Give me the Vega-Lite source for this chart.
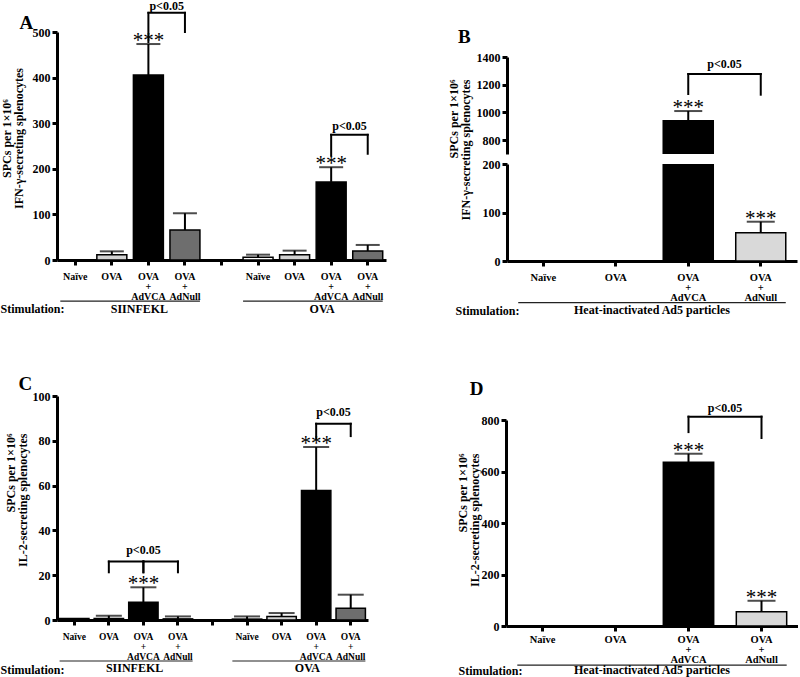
{
"$schema":"https://vega.github.io/schema/vega-lite/v6.json",
"padding":{"left":0,"top":0,"right":0,"bottom":0},
"bounds":"flush",
"spacing":364,
"resolve":{"scale":{"x":"independent","y":"independent","color":"independent"}},
"config":{
 "view":{"stroke":null},
 "text":{"font":"Liberation Serif","color":"black"},
 "axis":{"domainColor":"black","domainWidth":3,"tickColor":"black","tickWidth":3,"tickSize":5,"labelColor":"black","labelFont":"Liberation Serif","labelFontWeight":"bold","labelFontSize":12,"titleColor":"black","titleFont":"Liberation Serif","titleFontWeight":"bold","titleFontSize":12,"grid":false,"labelPadding":2,"titleLineHeight":12},
 "axisX":{"labelAngle":0,"labelFontSize":10,"labelLineHeight":10,"labelPadding":6,"labelOverlap":false},
 "axisY":{"labelOverlap":false,"format":"d"}
},
"datasets":{
 "A":[
  {"cat":"S:Naïve","grp":"Naïve","mean":0.3,"hi":null,"sig":""},
  {"cat":"S:OVA","grp":"OVA","mean":11.7,"hi":19,"sig":""},
  {"cat":"S:OVA|+|AdVCA","grp":"AdVCA","mean":405.6,"hi":473.6,"sig":"***"},
  {"cat":"S:OVA|+|AdNull","grp":"AdNull","mean":65.9,"hi":102.5,"sig":""},
  {"cat":"O:Naïve","grp":"Naïve","mean":5.9,"hi":11.7,"sig":""},
  {"cat":"O:OVA","grp":"OVA","mean":11.7,"hi":20.5,"sig":""},
  {"cat":"O:OVA|+|AdVCA","grp":"AdVCA","mean":171.3,"hi":203.5,"sig":"***"},
  {"cat":"O:OVA|+|AdNull","grp":"AdNull","mean":19.8,"hi":33,"sig":""}
 ],
 "Abr":[
  {"l":"S:OVA|+|AdVCA","r":"S:OVA|+|AdNull","top":542,"lb":478,"rb":500},
  {"l":"O:OVA|+|AdVCA","r":"O:OVA|+|AdNull","top":274.5,"lb":229,"rb":233}
 ],
 "Ap":[{"at":"S:OVA|+|AdVCA","y":556,"p":"p<0.05"},{"at":"O:OVA|+|AdVCA","y":294,"p":"p<0.05"}],
 "G2":[{"g":"SIINFEKL","from":"S:Naïve","to":"S:OVA|+|AdNull","at":"S:OVA|+|AdVCA"},{"g":"OVA","from":"O:Naïve","to":"O:OVA|+|AdNull","at":"O:OVA|+|AdVCA"}],
 "C":[
  {"cat":"S:Naïve","grp":"Naïve","mean":0.7,"hi":null,"sig":""},
  {"cat":"S:OVA","grp":"OVA","mean":0.7,"hi":1.9,"sig":""},
  {"cat":"S:OVA|+|AdVCA","grp":"AdVCA","mean":7.9,"hi":14.6,"sig":"***"},
  {"cat":"S:OVA|+|AdNull","grp":"AdNull","mean":0.5,"hi":1.6,"sig":""},
  {"cat":"O:Naïve","grp":"Naïve","mean":0.4,"hi":1.6,"sig":""},
  {"cat":"O:OVA","grp":"OVA","mean":1.6,"hi":3.1,"sig":""},
  {"cat":"O:OVA|+|AdVCA","grp":"AdVCA","mean":57.8,"hi":77.2,"sig":"***"},
  {"cat":"O:OVA|+|AdNull","grp":"AdNull","mean":5.2,"hi":11.3,"sig":""}
 ],
 "Cbr":[
  {"l":"S:OVA","r":"S:OVA|+|AdVCA","top":26.1,"lb":21.3,"rb":21.3},
  {"l":"S:OVA|+|AdVCA","r":"S:OVA|+|AdNull","top":26.1,"lb":21.3,"rb":21.3},
  {"l":"O:OVA|+|AdVCA","r":"O:OVA|+|AdNull","top":87.6,"lb":80.9,"rb":82.1}
 ],
 "Cp1":[{"at":"S:OVA|+|AdVCA","y":31.3,"p":"p<0.05"}],
 "Cp2":[{"at":"O:OVA|+|AdVCA","y":93,"p":"p<0.05"}],
 "B":[
  {"cat":"H:OVA|+|AdVCA","grp":"AdVCA","mean":940,"hi":1010,"sig":"***"},
  {"cat":"H:OVA|+|AdNull","grp":"AdNull","mean":58,"hi":81,"sig":"***"}
 ],
 "Bbr":[{"l":"H:OVA|+|AdVCA","r":"H:OVA|+|AdNull","top":1277,"lb":1133,"rb":1128}],
 "Bp":[{"at":"H:OVA|+|AdVCA","y":1349,"p":"p<0.05"}],
 "Hg":[{"g":"Heat-inactivated Ad5 particles","from":"H:Naïve","to":"H:OVA|+|AdNull"}],
 "D":[
  {"cat":"H:OVA|+|AdVCA","grp":"AdVCA","mean":636,"hi":669,"sig":"***"},
  {"cat":"H:OVA|+|AdNull","grp":"AdNull","mean":55.6,"hi":98,"sig":"***"}
 ],
 "Dbr":[{"l":"H:OVA|+|AdVCA","r":"H:OVA|+|AdNull","top":813,"lb":753,"rb":730}],
 "Dp":[{"at":"H:OVA|+|AdVCA","y":847,"p":"p<0.05"}],
 "LA":[{"t":"A","cat":"S:Naïve"}],
 "LB":[{"t":"B","cat":"H:Naïve"}],
 "LC":[{"t":"C","cat":"S:Naïve"}],
 "LD":[{"t":"D","cat":"H:Naïve"}]
},
"vconcat":[
 {"hconcat":[
  {"width":329,"height":228,
   "layer":[
    {"data":{"name":"A"},"mark":{"type":"bar","stroke":"black","strokeWidth":1.5},
     "encoding":{
      "x":{"field":"cat","type":"nominal","sort":null,"scale":{"domain":["S:Naïve","S:OVA","S:OVA|+|AdVCA","S:OVA|+|AdNull","G:","O:Naïve","O:OVA","O:OVA|+|AdVCA","O:OVA|+|AdNull"],"paddingInner":0.18,"paddingOuter":0.09},
       "axis":{"title":"Stimulation:","labelExpr":"split(slice(datum.value,2),'|')","titleAnchor":"start","titleAlign":"left","titleBaseline":"middle","titleX":-57,"titleY":48}},
      "y":{"field":"mean","type":"quantitative","stack":null,"scale":{"domain":[0,500],"nice":false},
       "axis":{"values":[0,100,200,300,400,500],"tickCount":10,"labelOverlap":false,"title":["SPCs per 1×10⁶","IFN-γ-secreting splenocytes"],"titlePadding":7,"titleY":106}},
      "color":{"field":"grp","type":"nominal","scale":{"domain":["Naïve","OVA","AdVCA","AdNull"],"range":["#ffffff","#d3d3d3","#000000","#6e6e6e"]},"legend":null}
     }},
    {"data":{"name":"A"},"transform":[{"filter":"isValid(datum.hi)"}],"mark":{"type":"rule","strokeWidth":2,"color":"black"},
     "encoding":{
      "x":{"field":"cat","type":"nominal","sort":null,"scale":{"domain":["S:Naïve","S:OVA","S:OVA|+|AdVCA","S:OVA|+|AdNull","G:","O:Naïve","O:OVA","O:OVA|+|AdVCA","O:OVA|+|AdNull"],"paddingInner":0.18,"paddingOuter":0.09}},
      "y":{"field":"mean","type":"quantitative","scale":{"domain":[0,500],"nice":false}},
      "y2":{"field":"hi"}}},
    {"data":{"name":"A"},"transform":[{"filter":"isValid(datum.hi)"}],"mark":{"type":"tick","color":"black","thickness":2,"size":24},
     "encoding":{
      "x":{"field":"cat","type":"nominal","sort":null,"scale":{"domain":["S:Naïve","S:OVA","S:OVA|+|AdVCA","S:OVA|+|AdNull","G:","O:Naïve","O:OVA","O:OVA|+|AdVCA","O:OVA|+|AdNull"],"paddingInner":0.18,"paddingOuter":0.09}},
      "y":{"field":"hi","type":"quantitative","scale":{"domain":[0,500],"nice":false}}}},
    {"data":{"name":"A"},"transform":[{"filter":"datum.sig == '***'"}],"mark":{"type":"text","fontSize":21,"fontWeight":"normal","baseline":"alphabetic","dy":3},
     "encoding":{
      "x":{"field":"cat","type":"nominal","sort":null,"scale":{"domain":["S:Naïve","S:OVA","S:OVA|+|AdVCA","S:OVA|+|AdNull","G:","O:Naïve","O:OVA","O:OVA|+|AdVCA","O:OVA|+|AdNull"],"paddingInner":0.18,"paddingOuter":0.09}},
      "y":{"field":"hi","type":"quantitative","scale":{"domain":[0,500],"nice":false}},
      "text":{"field":"sig"}}},
    {"data":{"name":"Abr"},"mark":{"type":"rule","strokeWidth":2,"color":"black","strokeCap":"square"},
     "encoding":{
      "x":{"field":"l","type":"nominal","sort":null,"scale":{"domain":["S:Naïve","S:OVA","S:OVA|+|AdVCA","S:OVA|+|AdNull","G:","O:Naïve","O:OVA","O:OVA|+|AdVCA","O:OVA|+|AdNull"],"paddingInner":0.18,"paddingOuter":0.09}},
      "x2":{"field":"r"},
      "y":{"field":"top","type":"quantitative","scale":{"domain":[0,500],"nice":false}}}},
    {"data":{"name":"Abr"},"mark":{"type":"rule","strokeWidth":2,"color":"black","strokeCap":"square"},
     "encoding":{
      "x":{"field":"l","type":"nominal","sort":null,"scale":{"domain":["S:Naïve","S:OVA","S:OVA|+|AdVCA","S:OVA|+|AdNull","G:","O:Naïve","O:OVA","O:OVA|+|AdVCA","O:OVA|+|AdNull"],"paddingInner":0.18,"paddingOuter":0.09}},
      "y":{"field":"top","type":"quantitative","scale":{"domain":[0,500],"nice":false}},
      "y2":{"field":"lb"}}},
    {"data":{"name":"Abr"},"mark":{"type":"rule","strokeWidth":2,"color":"black","strokeCap":"square"},
     "encoding":{
      "x":{"field":"r","type":"nominal","sort":null,"scale":{"domain":["S:Naïve","S:OVA","S:OVA|+|AdVCA","S:OVA|+|AdNull","G:","O:Naïve","O:OVA","O:OVA|+|AdVCA","O:OVA|+|AdNull"],"paddingInner":0.18,"paddingOuter":0.09}},
      "y":{"field":"top","type":"quantitative","scale":{"domain":[0,500],"nice":false}},
      "y2":{"field":"rb"}}},
    {"data":{"name":"Ap"},"mark":{"type":"text","fontSize":12,"fontWeight":"bold","baseline":"middle"},
     "encoding":{
      "x":{"field":"at","type":"nominal","sort":null,"bandPosition":1.11,"scale":{"domain":["S:Naïve","S:OVA","S:OVA|+|AdVCA","S:OVA|+|AdNull","G:","O:Naïve","O:OVA","O:OVA|+|AdVCA","O:OVA|+|AdNull"],"paddingInner":0.18,"paddingOuter":0.09}},
      "y":{"field":"y","type":"quantitative","scale":{"domain":[0,500],"nice":false}},
      "text":{"field":"p"}}},
    {"data":{"name":"G2"},"mark":{"type":"rule","strokeWidth":1.2,"color":"#222"},
     "encoding":{
      "x":{"field":"from","type":"nominal","sort":null,"bandPosition":0,"scale":{"domain":["S:Naïve","S:OVA","S:OVA|+|AdVCA","S:OVA|+|AdNull","G:","O:Naïve","O:OVA","O:OVA|+|AdVCA","O:OVA|+|AdNull"],"paddingInner":0.18,"paddingOuter":0.09}},
      "x2":{"field":"to","bandPosition":1},
      "y":{"datum":-90,"type":"quantitative","scale":{"domain":[0,500],"nice":false}}}},
    {"data":{"name":"G2"},"mark":{"type":"text","fontSize":12,"fontWeight":"bold","baseline":"middle"},
     "encoding":{
      "x":{"field":"at","type":"nominal","sort":null,"bandPosition":0.2,"scale":{"domain":["S:Naïve","S:OVA","S:OVA|+|AdVCA","S:OVA|+|AdNull","G:","O:Naïve","O:OVA","O:OVA|+|AdVCA","O:OVA|+|AdNull"],"paddingInner":0.18,"paddingOuter":0.09}},
      "y":{"datum":-107,"type":"quantitative","scale":{"domain":[0,500],"nice":false}},
      "text":{"field":"g"}}},
    {"data":{"name":"LA"},"mark":{"type":"text","fontSize":19,"fontWeight":"bold","baseline":"middle","dx":-49},
     "encoding":{
      "x":{"field":"cat","type":"nominal","sort":null,"scale":{"domain":["S:Naïve","S:OVA","S:OVA|+|AdVCA","S:OVA|+|AdNull","G:","O:Naïve","O:OVA","O:OVA|+|AdVCA","O:OVA|+|AdNull"],"paddingInner":0.18,"paddingOuter":0.09}},
      "y":{"datum":520,"type":"quantitative","scale":{"domain":[0,500],"nice":false}},
      "text":{"field":"t"}}}
   ]},
  {"vconcat":[
    {"width":290,"height":15,"data":{"values":[]},"mark":"point"},
    {"width":290,"height":97,
     "layer":[
      {"data":{"name":"B"},"transform":[{"filter":"datum.mean > 700"}],"mark":{"type":"bar","stroke":"black","strokeWidth":1.5,"clip":true},
       "encoding":{
        "x":{"field":"cat","type":"nominal","sort":null,"scale":{"domain":["H:Naïve","H:OVA","H:OVA|+|AdVCA","H:OVA|+|AdNull"],"paddingInner":0.31,"paddingOuter":0.155},"axis":null},
        "y":{"field":"mean","type":"quantitative","stack":null,"scale":{"domain":[700,1400],"nice":false,"zero":false},"axis":{"values":[800,1000,1200,1400],"tickCount":10,"labelOverlap":false,"title":null}},
        "color":{"field":"grp","type":"nominal","scale":{"domain":["AdVCA","AdNull"],"range":["#000000","#d9d9d9"]},"legend":null}}},
      {"data":{"name":"B"},"transform":[{"filter":"datum.hi > 700"}],"mark":{"type":"rule","strokeWidth":2,"color":"black"},
       "encoding":{
        "x":{"field":"cat","type":"nominal","sort":null,"scale":{"domain":["H:Naïve","H:OVA","H:OVA|+|AdVCA","H:OVA|+|AdNull"],"paddingInner":0.31,"paddingOuter":0.155},"axis":null},
        "y":{"field":"mean","type":"quantitative","scale":{"domain":[700,1400],"nice":false,"zero":false}},
        "y2":{"field":"hi"}}},
      {"data":{"name":"B"},"transform":[{"filter":"datum.hi > 700"}],"mark":{"type":"tick","color":"black","thickness":2,"size":28},
       "encoding":{
        "x":{"field":"cat","type":"nominal","sort":null,"scale":{"domain":["H:Naïve","H:OVA","H:OVA|+|AdVCA","H:OVA|+|AdNull"],"paddingInner":0.31,"paddingOuter":0.155},"axis":null},
        "y":{"field":"hi","type":"quantitative","scale":{"domain":[700,1400],"nice":false,"zero":false}}}},
      {"data":{"name":"B"},"transform":[{"filter":"datum.hi > 700"}],"mark":{"type":"text","fontSize":21,"fontWeight":"normal","baseline":"alphabetic","dy":3},
       "encoding":{
        "x":{"field":"cat","type":"nominal","sort":null,"scale":{"domain":["H:Naïve","H:OVA","H:OVA|+|AdVCA","H:OVA|+|AdNull"],"paddingInner":0.31,"paddingOuter":0.155},"axis":null},
        "y":{"field":"hi","type":"quantitative","scale":{"domain":[700,1400],"nice":false,"zero":false}},
        "text":{"field":"sig"}}},
      {"data":{"name":"Bbr"},"mark":{"type":"rule","strokeWidth":2,"color":"black","strokeCap":"square"},
       "encoding":{
        "x":{"field":"l","type":"nominal","sort":null,"scale":{"domain":["H:Naïve","H:OVA","H:OVA|+|AdVCA","H:OVA|+|AdNull"],"paddingInner":0.31,"paddingOuter":0.155},"axis":null},
        "x2":{"field":"r"},
        "y":{"field":"top","type":"quantitative","scale":{"domain":[700,1400],"nice":false,"zero":false}}}},
      {"data":{"name":"Bbr"},"mark":{"type":"rule","strokeWidth":2,"color":"black","strokeCap":"square"},
       "encoding":{
        "x":{"field":"l","type":"nominal","sort":null,"scale":{"domain":["H:Naïve","H:OVA","H:OVA|+|AdVCA","H:OVA|+|AdNull"],"paddingInner":0.31,"paddingOuter":0.155},"axis":null},
        "y":{"field":"top","type":"quantitative","scale":{"domain":[700,1400],"nice":false,"zero":false}},
        "y2":{"field":"lb"}}},
      {"data":{"name":"Bbr"},"mark":{"type":"rule","strokeWidth":2,"color":"black","strokeCap":"square"},
       "encoding":{
        "x":{"field":"r","type":"nominal","sort":null,"scale":{"domain":["H:Naïve","H:OVA","H:OVA|+|AdVCA","H:OVA|+|AdNull"],"paddingInner":0.31,"paddingOuter":0.155},"axis":null},
        "y":{"field":"top","type":"quantitative","scale":{"domain":[700,1400],"nice":false,"zero":false}},
        "y2":{"field":"rb"}}},
      {"data":{"name":"Bp"},"mark":{"type":"text","fontSize":12,"fontWeight":"bold","baseline":"middle"},
       "encoding":{
        "x":{"field":"at","type":"nominal","sort":null,"bandPosition":1.225,"scale":{"domain":["H:Naïve","H:OVA","H:OVA|+|AdVCA","H:OVA|+|AdNull"],"paddingInner":0.31,"paddingOuter":0.155},"axis":null},
        "y":{"field":"y","type":"quantitative","scale":{"domain":[700,1400],"nice":false,"zero":false}},
        "text":{"field":"p"}}},
      {"data":{"name":"LB"},"mark":{"type":"text","fontSize":19,"fontWeight":"bold","baseline":"middle","dx":-79},
       "encoding":{
        "x":{"field":"cat","type":"nominal","sort":null,"scale":{"domain":["H:Naïve","H:OVA","H:OVA|+|AdVCA","H:OVA|+|AdNull"],"paddingInner":0.31,"paddingOuter":0.155},"axis":null},
        "y":{"datum":1545,"type":"quantitative","scale":{"domain":[700,1400],"nice":false,"zero":false}},
        "text":{"field":"t"}}}
     ]},
    {"width":290,"height":97,
     "layer":[
      {"data":{"name":"B"},"mark":{"type":"bar","stroke":"black","strokeWidth":1.5,"clip":true},
       "encoding":{
        "x":{"field":"cat","type":"nominal","sort":null,"scale":{"domain":["H:Naïve","H:OVA","H:OVA|+|AdVCA","H:OVA|+|AdNull"],"paddingInner":0.31,"paddingOuter":0.155},
         "axis":{"title":"Stimulation:","labelFontSize":10.5,"labelExpr":"split(slice(datum.value,2),'|')","titleAnchor":"start","titleAlign":"left","titleBaseline":"middle","titleX":-52,"titleY":49}},
        "y":{"field":"mean","type":"quantitative","stack":null,"scale":{"domain":[0,200],"nice":false},"axis":{"values":[0,100,200],"tickCount":10,"labelOverlap":false,"title":["SPCs per 1×10⁶","IFN-γ-secreting splenocytes"],"titlePadding":10,"titleAlign":"right","titleY":-85}},
        "color":{"field":"grp","type":"nominal","scale":{"domain":["AdVCA","AdNull"],"range":["#000000","#d9d9d9"]},"legend":null}}},
      {"data":{"name":"B"},"transform":[{"filter":"datum.hi < 200"}],"mark":{"type":"rule","strokeWidth":2,"color":"black"},
       "encoding":{
        "x":{"field":"cat","type":"nominal","sort":null,"scale":{"domain":["H:Naïve","H:OVA","H:OVA|+|AdVCA","H:OVA|+|AdNull"],"paddingInner":0.31,"paddingOuter":0.155}},
        "y":{"field":"mean","type":"quantitative","scale":{"domain":[0,200],"nice":false}},
        "y2":{"field":"hi"}}},
      {"data":{"name":"B"},"transform":[{"filter":"datum.hi < 200"}],"mark":{"type":"tick","color":"black","thickness":2,"size":28},
       "encoding":{
        "x":{"field":"cat","type":"nominal","sort":null,"scale":{"domain":["H:Naïve","H:OVA","H:OVA|+|AdVCA","H:OVA|+|AdNull"],"paddingInner":0.31,"paddingOuter":0.155}},
        "y":{"field":"hi","type":"quantitative","scale":{"domain":[0,200],"nice":false}}}},
      {"data":{"name":"B"},"transform":[{"filter":"datum.hi < 200"}],"mark":{"type":"text","fontSize":21,"fontWeight":"normal","baseline":"alphabetic","dy":3},
       "encoding":{
        "x":{"field":"cat","type":"nominal","sort":null,"scale":{"domain":["H:Naïve","H:OVA","H:OVA|+|AdVCA","H:OVA|+|AdNull"],"paddingInner":0.31,"paddingOuter":0.155}},
        "y":{"field":"hi","type":"quantitative","scale":{"domain":[0,200],"nice":false}},
        "text":{"field":"sig"}}},
      {"data":{"name":"Hg"},"mark":{"type":"rule","strokeWidth":1.2,"color":"#222"},
       "encoding":{
        "x":{"field":"from","type":"nominal","sort":null,"bandPosition":0,"scale":{"domain":["H:Naïve","H:OVA","H:OVA|+|AdVCA","H:OVA|+|AdNull"],"paddingInner":0.31,"paddingOuter":0.155}},
        "x2":{"field":"to","bandPosition":1},
        "y":{"datum":-86,"type":"quantitative","scale":{"domain":[0,200],"nice":false}}}},
      {"data":{"name":"Hg"},"mark":{"type":"text","fontSize":12,"fontWeight":"bold","baseline":"middle"},
       "encoding":{
        "y":{"datum":-101,"type":"quantitative","scale":{"domain":[0,200],"nice":false}},
        "text":{"field":"g"}}}
     ]}
   ],"spacing":10,"bounds":"flush","resolve":{"scale":{"x":"independent","y":"independent","color":"independent"}}}
 ],"spacing":121,"bounds":"flush","resolve":{"scale":{"x":"independent","y":"independent","color":"independent"}}},
 {"hconcat":[
  {"width":311,"height":224,
   "layer":[
    {"data":{"name":"C"},"mark":{"type":"bar","stroke":"black","strokeWidth":1.5},
     "encoding":{
      "x":{"field":"cat","type":"nominal","sort":null,"scale":{"domain":["S:Naïve","S:OVA","S:OVA|+|AdVCA","S:OVA|+|AdNull","G:","O:Naïve","O:OVA","O:OVA|+|AdVCA","O:OVA|+|AdNull"],"paddingInner":0.15,"paddingOuter":0.075},
       "axis":{"title":"Stimulation:","labelExpr":"split(slice(datum.value,2),'|')","labelFontSize":9.5,"titleAnchor":"start","titleAlign":"left","titleBaseline":"middle","titleX":-57,"titleY":49}},
      "y":{"field":"mean","type":"quantitative","stack":null,"scale":{"domain":[0,100],"nice":false},
       "axis":{"values":[0,20,40,60,80,100],"tickCount":10,"labelOverlap":false,"title":["SPCs per 1×10⁶","IL-2-secreting splenocytes"],"titlePadding":3,"titleAlign":"right","titleY":37}},
      "color":{"field":"grp","type":"nominal","scale":{"domain":["Naïve","OVA","AdVCA","AdNull"],"range":["#ffffff","#d3d3d3","#000000","#6e6e6e"]},"legend":null}
     }},
    {"data":{"name":"C"},"transform":[{"filter":"isValid(datum.hi)"}],"mark":{"type":"rule","strokeWidth":2,"color":"black"},
     "encoding":{
      "x":{"field":"cat","type":"nominal","sort":null,"scale":{"domain":["S:Naïve","S:OVA","S:OVA|+|AdVCA","S:OVA|+|AdNull","G:","O:Naïve","O:OVA","O:OVA|+|AdVCA","O:OVA|+|AdNull"],"paddingInner":0.15,"paddingOuter":0.075}},
      "y":{"field":"mean","type":"quantitative","scale":{"domain":[0,100],"nice":false}},
      "y2":{"field":"hi"}}},
    {"data":{"name":"C"},"transform":[{"filter":"isValid(datum.hi)"}],"mark":{"type":"tick","color":"black","thickness":2,"size":26},
     "encoding":{
      "x":{"field":"cat","type":"nominal","sort":null,"scale":{"domain":["S:Naïve","S:OVA","S:OVA|+|AdVCA","S:OVA|+|AdNull","G:","O:Naïve","O:OVA","O:OVA|+|AdVCA","O:OVA|+|AdNull"],"paddingInner":0.15,"paddingOuter":0.075}},
      "y":{"field":"hi","type":"quantitative","scale":{"domain":[0,100],"nice":false}}}},
    {"data":{"name":"C"},"transform":[{"filter":"datum.sig == '***'"}],"mark":{"type":"text","fontSize":21,"fontWeight":"normal","baseline":"alphabetic","dy":3},
     "encoding":{
      "x":{"field":"cat","type":"nominal","sort":null,"scale":{"domain":["S:Naïve","S:OVA","S:OVA|+|AdVCA","S:OVA|+|AdNull","G:","O:Naïve","O:OVA","O:OVA|+|AdVCA","O:OVA|+|AdNull"],"paddingInner":0.15,"paddingOuter":0.075}},
      "y":{"field":"hi","type":"quantitative","scale":{"domain":[0,100],"nice":false}},
      "text":{"field":"sig"}}},
    {"data":{"name":"Cbr"},"mark":{"type":"rule","strokeWidth":2,"color":"black","strokeCap":"square"},
     "encoding":{
      "x":{"field":"l","type":"nominal","sort":null,"scale":{"domain":["S:Naïve","S:OVA","S:OVA|+|AdVCA","S:OVA|+|AdNull","G:","O:Naïve","O:OVA","O:OVA|+|AdVCA","O:OVA|+|AdNull"],"paddingInner":0.15,"paddingOuter":0.075}},
      "x2":{"field":"r"},
      "y":{"field":"top","type":"quantitative","scale":{"domain":[0,100],"nice":false}}}},
    {"data":{"name":"Cbr"},"mark":{"type":"rule","strokeWidth":2,"color":"black","strokeCap":"square"},
     "encoding":{
      "x":{"field":"l","type":"nominal","sort":null,"scale":{"domain":["S:Naïve","S:OVA","S:OVA|+|AdVCA","S:OVA|+|AdNull","G:","O:Naïve","O:OVA","O:OVA|+|AdVCA","O:OVA|+|AdNull"],"paddingInner":0.15,"paddingOuter":0.075}},
      "y":{"field":"top","type":"quantitative","scale":{"domain":[0,100],"nice":false}},
      "y2":{"field":"lb"}}},
    {"data":{"name":"Cbr"},"mark":{"type":"rule","strokeWidth":2,"color":"black","strokeCap":"square"},
     "encoding":{
      "x":{"field":"r","type":"nominal","sort":null,"scale":{"domain":["S:Naïve","S:OVA","S:OVA|+|AdVCA","S:OVA|+|AdNull","G:","O:Naïve","O:OVA","O:OVA|+|AdVCA","O:OVA|+|AdNull"],"paddingInner":0.15,"paddingOuter":0.075}},
      "y":{"field":"top","type":"quantitative","scale":{"domain":[0,100],"nice":false}},
      "y2":{"field":"rb"}}},
    {"data":{"name":"Cp1"},"mark":{"type":"text","fontSize":12,"fontWeight":"bold","baseline":"middle"},
     "encoding":{
      "x":{"field":"at","type":"nominal","sort":null,"scale":{"domain":["S:Naïve","S:OVA","S:OVA|+|AdVCA","S:OVA|+|AdNull","G:","O:Naïve","O:OVA","O:OVA|+|AdVCA","O:OVA|+|AdNull"],"paddingInner":0.15,"paddingOuter":0.075}},
      "y":{"field":"y","type":"quantitative","scale":{"domain":[0,100],"nice":false}},
      "text":{"field":"p"}}},
    {"data":{"name":"Cp2"},"mark":{"type":"text","fontSize":12,"fontWeight":"bold","baseline":"middle"},
     "encoding":{
      "x":{"field":"at","type":"nominal","sort":null,"bandPosition":1.09,"scale":{"domain":["S:Naïve","S:OVA","S:OVA|+|AdVCA","S:OVA|+|AdNull","G:","O:Naïve","O:OVA","O:OVA|+|AdVCA","O:OVA|+|AdNull"],"paddingInner":0.15,"paddingOuter":0.075}},
      "y":{"field":"y","type":"quantitative","scale":{"domain":[0,100],"nice":false}},
      "text":{"field":"p"}}},
    {"data":{"name":"G2"},"mark":{"type":"rule","strokeWidth":1.2,"color":"#222"},
     "encoding":{
      "x":{"field":"from","type":"nominal","sort":null,"bandPosition":0,"scale":{"domain":["S:Naïve","S:OVA","S:OVA|+|AdVCA","S:OVA|+|AdNull","G:","O:Naïve","O:OVA","O:OVA|+|AdVCA","O:OVA|+|AdNull"],"paddingInner":0.15,"paddingOuter":0.075}},
      "x2":{"field":"to","bandPosition":1},
      "y":{"datum":-18.3,"type":"quantitative","scale":{"domain":[0,100],"nice":false}}}},
    {"data":{"name":"G2"},"mark":{"type":"text","fontSize":12,"fontWeight":"bold","baseline":"middle"},
     "encoding":{
      "x":{"field":"at","type":"nominal","sort":null,"bandPosition":0.2,"scale":{"domain":["S:Naïve","S:OVA","S:OVA|+|AdVCA","S:OVA|+|AdNull","G:","O:Naïve","O:OVA","O:OVA|+|AdVCA","O:OVA|+|AdNull"],"paddingInner":0.15,"paddingOuter":0.075}},
      "y":{"datum":-21.5,"type":"quantitative","scale":{"domain":[0,100],"nice":false}},
      "text":{"field":"g"}}},
    {"data":{"name":"LC"},"mark":{"type":"text","fontSize":19,"fontWeight":"bold","baseline":"middle","dx":-49},
     "encoding":{
      "x":{"field":"cat","type":"nominal","sort":null,"scale":{"domain":["S:Naïve","S:OVA","S:OVA|+|AdVCA","S:OVA|+|AdNull","G:","O:Naïve","O:OVA","O:OVA|+|AdVCA","O:OVA|+|AdNull"],"paddingInner":0.15,"paddingOuter":0.075}},
      "y":{"datum":105.4,"type":"quantitative","scale":{"domain":[0,100],"nice":false}},
      "text":{"field":"t"}}}
   ]},
  {"vconcat":[
    {"width":292,"height":14,"data":{"values":[]},"mark":"point"},
    {"width":292,"height":206,
     "layer":[
      {"data":{"name":"D"},"mark":{"type":"bar","stroke":"black","strokeWidth":1.5},
       "encoding":{
        "x":{"field":"cat","type":"nominal","sort":null,"scale":{"domain":["H:Naïve","H:OVA","H:OVA|+|AdVCA","H:OVA|+|AdNull"],"paddingInner":0.31,"paddingOuter":0.155},
         "axis":{"title":"Stimulation:","labelFontSize":10.5,"labelPadding":3,"labelExpr":"split(slice(datum.value,2),'|')","titleAnchor":"start","titleAlign":"left","titleBaseline":"middle","titleX":-48,"titleY":44}},
        "y":{"field":"mean","type":"quantitative","stack":null,"scale":{"domain":[0,800],"nice":false},"axis":{"values":[0,200,400,600,800],"tickCount":10,"labelOverlap":false,"title":["SPCs per 1×10⁶","IL-2-secreting splenocytes"],"titlePadding":0,"titleAlign":"right","titleY":33}},
        "color":{"field":"grp","type":"nominal","scale":{"domain":["AdVCA","AdNull"],"range":["#000000","#d9d9d9"]},"legend":null}}},
      {"data":{"name":"D"},"mark":{"type":"rule","strokeWidth":2,"color":"black"},
       "encoding":{
        "x":{"field":"cat","type":"nominal","sort":null,"scale":{"domain":["H:Naïve","H:OVA","H:OVA|+|AdVCA","H:OVA|+|AdNull"],"paddingInner":0.31,"paddingOuter":0.155}},
        "y":{"field":"mean","type":"quantitative","scale":{"domain":[0,800],"nice":false}},
        "y2":{"field":"hi"}}},
      {"data":{"name":"D"},"mark":{"type":"tick","color":"black","thickness":2,"size":28},
       "encoding":{
        "x":{"field":"cat","type":"nominal","sort":null,"scale":{"domain":["H:Naïve","H:OVA","H:OVA|+|AdVCA","H:OVA|+|AdNull"],"paddingInner":0.31,"paddingOuter":0.155}},
        "y":{"field":"hi","type":"quantitative","scale":{"domain":[0,800],"nice":false}}}},
      {"data":{"name":"D"},"mark":{"type":"text","fontSize":21,"fontWeight":"normal","baseline":"alphabetic","dy":3},
       "encoding":{
        "x":{"field":"cat","type":"nominal","sort":null,"scale":{"domain":["H:Naïve","H:OVA","H:OVA|+|AdVCA","H:OVA|+|AdNull"],"paddingInner":0.31,"paddingOuter":0.155}},
        "y":{"field":"hi","type":"quantitative","scale":{"domain":[0,800],"nice":false}},
        "text":{"field":"sig"}}},
      {"data":{"name":"Dbr"},"mark":{"type":"rule","strokeWidth":2,"color":"black","strokeCap":"square"},
       "encoding":{
        "x":{"field":"l","type":"nominal","sort":null,"scale":{"domain":["H:Naïve","H:OVA","H:OVA|+|AdVCA","H:OVA|+|AdNull"],"paddingInner":0.31,"paddingOuter":0.155}},
        "x2":{"field":"r"},
        "y":{"field":"top","type":"quantitative","scale":{"domain":[0,800],"nice":false}}}},
      {"data":{"name":"Dbr"},"mark":{"type":"rule","strokeWidth":2,"color":"black","strokeCap":"square"},
       "encoding":{
        "x":{"field":"l","type":"nominal","sort":null,"scale":{"domain":["H:Naïve","H:OVA","H:OVA|+|AdVCA","H:OVA|+|AdNull"],"paddingInner":0.31,"paddingOuter":0.155}},
        "y":{"field":"top","type":"quantitative","scale":{"domain":[0,800],"nice":false}},
        "y2":{"field":"lb"}}},
      {"data":{"name":"Dbr"},"mark":{"type":"rule","strokeWidth":2,"color":"black","strokeCap":"square"},
       "encoding":{
        "x":{"field":"r","type":"nominal","sort":null,"scale":{"domain":["H:Naïve","H:OVA","H:OVA|+|AdVCA","H:OVA|+|AdNull"],"paddingInner":0.31,"paddingOuter":0.155}},
        "y":{"field":"top","type":"quantitative","scale":{"domain":[0,800],"nice":false}},
        "y2":{"field":"rb"}}},
      {"data":{"name":"Dp"},"mark":{"type":"text","fontSize":12,"fontWeight":"bold","baseline":"middle"},
       "encoding":{
        "x":{"field":"at","type":"nominal","sort":null,"bandPosition":1.225,"scale":{"domain":["H:Naïve","H:OVA","H:OVA|+|AdVCA","H:OVA|+|AdNull"],"paddingInner":0.31,"paddingOuter":0.155}},
        "y":{"field":"y","type":"quantitative","scale":{"domain":[0,800],"nice":false}},
        "text":{"field":"p"}}},
      {"data":{"name":"Hg"},"mark":{"type":"rule","strokeWidth":1.2,"color":"#222"},
       "encoding":{
        "x":{"field":"from","type":"nominal","sort":null,"bandPosition":0,"scale":{"domain":["H:Naïve","H:OVA","H:OVA|+|AdVCA","H:OVA|+|AdNull"],"paddingInner":0.31,"paddingOuter":0.155}},
        "x2":{"field":"to","bandPosition":1},
        "y":{"datum":-152,"type":"quantitative","scale":{"domain":[0,800],"nice":false}}}},
      {"data":{"name":"Hg"},"mark":{"type":"text","fontSize":12,"fontWeight":"bold","baseline":"middle"},
       "encoding":{
        "y":{"datum":-172,"type":"quantitative","scale":{"domain":[0,800],"nice":false}},
        "text":{"field":"g"}}},
      {"data":{"name":"LD"},"mark":{"type":"text","fontSize":19,"fontWeight":"bold","baseline":"middle","dx":-66},
       "encoding":{
        "x":{"field":"cat","type":"nominal","sort":null,"scale":{"domain":["H:Naïve","H:OVA","H:OVA|+|AdVCA","H:OVA|+|AdNull"],"paddingInner":0.31,"paddingOuter":0.155}},
        "y":{"datum":920,"type":"quantitative","scale":{"domain":[0,800],"nice":false}},
        "text":{"field":"t"}}}
     ]}
   ],"spacing":10,"bounds":"flush","resolve":{"scale":{"x":"independent","y":"independent","color":"independent"}}}
 ],"spacing":138,"bounds":"flush","resolve":{"scale":{"x":"independent","y":"independent","color":"independent"}}}
]
}
